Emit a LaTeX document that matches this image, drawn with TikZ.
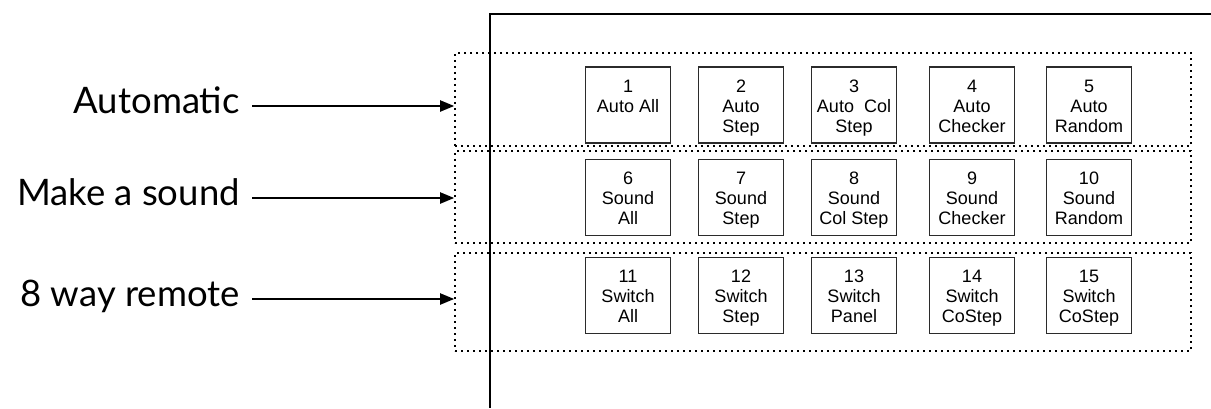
\documentclass[tikz,border=0pt]{standalone}
\usepackage{fontspec}
\setmainfont{Liberation Sans}
\newfontfamily\padfont{Liberation Sans}
\newfontfamily\labelfont{Lato}
\usetikzlibrary{arrows.meta, positioning, calc}
\definecolor{ink}    {HTML}{000000}
\definecolor{inkpad} {HTML}{2B2B2B}
\newcommand\padlines[3]{\rule{0pt}{20pt}#1\\\strut#2\\\strut#3}
\tikzset{
  pad/.style    = {draw=inkpad, line width=1.2pt, minimum width=85pt,
                   minimum height=76pt, inner sep=0pt, align=center,
                   font=\padfont\fontsize{18}{20}\selectfont},
  group/.style  = {draw=ink, line width=1.6pt, dash pattern=on 1.6pt off 4.4pt,
                   inner sep=0pt},
  panel/.style  = {draw=ink, line width=2pt},
  arr/.style    = {-{Triangle[length=14pt, width=11pt]}, line width=2pt, ink},
  labl/.style   = {font=\labelfont\fontsize{36.5}{40}\selectfont, anchor=base east,
                   inner sep=0pt},
}
\begin{document}
\begin{tikzpicture}[x=1pt, y=-1pt]
  \useasboundingbox (0,0) rectangle (1211,408);

  % the panel
  \draw[panel] (1211,14) -- (490,14) -- (490,408);

  % rows of pads
  \node[group, minimum width=736pt, minimum height=93pt] (gauto)   at (823,99.5) {};
  \node[group, minimum width=736pt, minimum height=92pt] (gsound)  at (823,197)  {};
  \node[group, minimum width=736pt, minimum height=98pt] (gremote) at (823,302)  {};

  \foreach \n/\x/\y/\a/\b/\c in {
      1/628/105/1/Auto All/{},   2/741/105/2/Auto/Step,
      3/854/105/3/{Auto\ \ Col}/Step, 4/972/105/4/Auto/Checker,
      5/1089/105/5/Auto/Random,
      6/628/197.5/6/Sound/All,  7/741/197.5/7/Sound/Step,
      8/854/197.5/8/Sound/Col Step, 9/972/197.5/9/Sound/Checker,
      10/1089/197.5/10/Sound/Random,
      11/628/295.5/11/Switch/All, 12/741/295.5/12/Switch/Step,
      13/854/295.5/13/Switch/Panel, 14/972/295.5/14/Switch/CoStep,
      15/1089/295.5/15/Switch/CoStep}
    \node[pad] (p\n) at (\x,\y) {\padlines{\a}{\b}{\c}};

  % what each row does
  \node[labl] (lauto)   at (240,113) {Automatic};
  \node[labl] (lsound)  at (240,205) {Make a sound};
  \node[labl] (lremote) at (240,306) {8 way remote};

  \foreach \l/\g in {lauto/gauto, lsound/gsound, lremote/gremote}
    \draw[arr] ([xshift=12pt, yshift=7pt]\l.base east)
      -- ([yshift=7pt]\l.base east -| \g.west);

\end{tikzpicture}
\end{document}
